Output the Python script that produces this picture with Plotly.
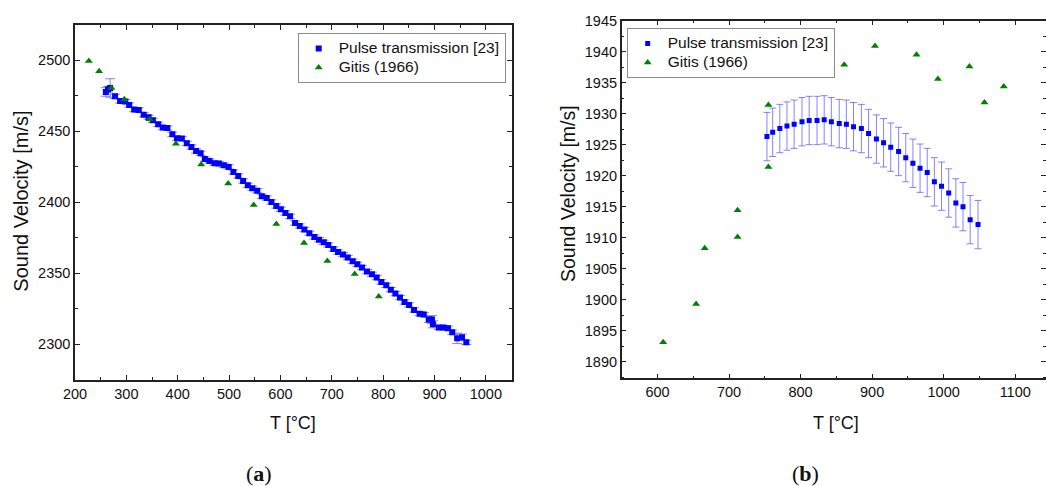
import plotly.graph_objects as go

W, H = 1046, 486

# ---------------- Panel (a) ----------------
a_pulse_T = [260, 264.5, 268.4, 278, 287.8, 298, 305.6, 315.2, 324.2, 333.7, 343.4, 351.6,
             361.9, 370.9, 379.9, 389.6, 398.5, 408.1, 417.7, 426.7, 435.8, 444.6,
             452.9, 461.8, 471.4, 480.2, 489.8, 499.3, 508.4, 517.9, 527.4, 536.5, 545.3,
             554.9, 563.9, 573.4, 582.5, 592, 600.8,
             609.7, 618.8, 628.5, 637.7, 646.6, 656.4, 666.1, 675.2, 684.4, 693.3, 703.1,
             712.2, 721.9, 731.1, 740.8, 749.8, 758.9, 768.6, 778.3, 787.5,
             796.5, 806.1, 815, 823.9, 832.8, 841.7, 850.6, 860.1, 871, 879.2, 888.8,
             895.1, 897, 908.5, 917.4, 926.3, 934.6, 944.1, 953.6, 962]
a_pulse_V = [2477.7, 2479.6, 2480.5, 2474.6, 2471.4, 2470.9, 2468.5, 2465.3, 2465.0, 2461.7,
             2459.9, 2457.7, 2454.9, 2452.6, 2452.3, 2447.9, 2445.1, 2444.9, 2441.5, 2438.9,
             2436.1, 2434.5,
             2430.5, 2429.1, 2427.5, 2427.3, 2426.1, 2424.9, 2421.3, 2418.5, 2415.0, 2412.0,
             2409.9, 2408.2, 2404.2, 2403.0, 2400.2, 2397.4, 2395.1,
             2392.5, 2390.1, 2385.4, 2383.3, 2380.8, 2378.2, 2375.6, 2373.7, 2371.8, 2369.9,
             2367.1, 2365.0, 2363.2, 2361.1, 2358.5, 2356.3, 2354.0, 2351.2, 2349.3, 2347.0,
             2343.9, 2341.5, 2338.5, 2335.7, 2332.9, 2329.8, 2327.7, 2324.2, 2321.6, 2320.9,
             2317.4, 2317.4, 2314.1, 2311.8, 2311.8, 2311.3, 2308.5, 2304.2, 2304.9, 2301.4]
a_pulse_err = [3.0, 2.0, 6.5, 1.5, 1.5, 1.5, 1.5, 1.5, 1.5, 1.5, 1.5, 1.5, 1.5, 1.5, 1.5, 1.5,
               1.5, 1.5, 1.5, 1.5, 1.5, 1.5,
               1.5, 1.5, 1.5, 1.5, 1.5, 1.5, 1.5, 1.5, 1.5, 1.5, 1.5, 1.5, 1.5, 1.5, 1.5,
               1.5, 1.5,
               1.5, 1.5, 1.5, 1.5, 1.5, 1.5, 1.5, 1.5, 1.5, 1.5, 1.5, 1.5, 1.5, 1.5, 1.5,
               1.5, 1.5, 1.5, 1.5, 1.5,
               1.5, 1.5, 1.5, 1.5, 1.5, 1.5, 1.5, 1.5, 1.5, 1.5, 2.0, 2.8, 2.5, 1.5, 1.5,
               1.5, 1.5, 3.7, 2.3, 1.5]
a_gitis_T = [227, 247, 271, 296, 345, 396.5, 445.7, 498.3, 548, 592, 646, 691.4, 744.7, 791.4]
a_gitis_V = [2499.5, 2492.3, 2480.5, 2472.5, 2458.5, 2441.3, 2426.6, 2413.2, 2398.1, 2384.7,
             2371.3, 2358.7, 2349.5, 2333.6]

# ---------------- Panel (b) ----------------
b_pulse_T = [753, 761, 771, 781, 791, 802, 812, 823, 833, 843, 854, 864, 874, 885, 895,
             906, 916, 926, 937, 947, 957, 967, 977, 987, 997, 1007, 1017, 1027, 1037, 1048]
b_pulse_V = [1926.3, 1927.0, 1927.6, 1928.0, 1928.3, 1928.7, 1928.9, 1928.9, 1929.0, 1928.7,
             1928.4, 1928.3, 1927.9, 1927.6, 1926.8, 1925.9, 1925.3, 1924.6, 1923.9, 1922.9,
             1922.0, 1921.2, 1920.5, 1919.0, 1918.3, 1917.2, 1915.6, 1915.0, 1912.9, 1912.1]
b_pulse_err = [3.9, 3.9, 3.9, 3.9, 3.9, 3.9, 3.9, 3.9, 3.9, 3.9, 3.9, 3.9, 3.9, 3.9, 3.9,
               3.9, 3.9, 3.9, 3.9, 3.9, 3.9, 3.9, 3.9, 3.9, 3.9, 3.9, 3.9, 3.9, 3.9, 3.9]
b_gitis_T = [608, 654, 666, 712, 712, 755, 755, 861, 904, 962, 992, 1036, 1057, 1084]
b_gitis_V = [1893.1, 1899.3, 1908.3, 1910.1, 1914.4, 1921.4, 1931.4, 1937.9, 1940.9, 1939.5,
             1935.6, 1937.6, 1931.8, 1934.4]

legend_names = ["Pulse transmission [23]", "Gitis (1966)"]
x_title = "T [°C]"
y_title = "Sound Velocity [m/s]"

FONT = "Liberation Sans, Arial, sans-serif"
BLUE = "#0000ff"
GREEN = "#008000"
ERR = "rgba(80,80,255,0.7)"
AX = "#222222"


def lname(s):
    return '<span style="font-size:15.5px">' + s + '</span>'


fig = go.Figure()

fig.add_trace(go.Scatter(
    x=a_pulse_T, y=a_pulse_V, mode="markers", name=lname(legend_names[0]),
    marker=dict(symbol="square", size=6, color=BLUE),
    error_y=dict(type="data", array=a_pulse_err, visible=True, color=ERR, thickness=1, width=5),
    xaxis="x", yaxis="y", legend="legend"))
fig.add_trace(go.Scatter(
    x=a_gitis_T, y=a_gitis_V, mode="markers", name=lname(legend_names[1]),
    marker=dict(symbol="triangle-up", size=7, color=GREEN),
    xaxis="x", yaxis="y", legend="legend"))

fig.add_trace(go.Scatter(
    x=b_pulse_T, y=b_pulse_V, mode="markers", name=lname(legend_names[0]),
    marker=dict(symbol="square", size=5, color=BLUE),
    error_y=dict(type="data", array=b_pulse_err, visible=True, color=ERR, thickness=1, width=3.5),
    xaxis="x2", yaxis="y2", legend="legend2"))
fig.add_trace(go.Scatter(
    x=b_gitis_T, y=b_gitis_V, mode="markers", name=lname(legend_names[1]),
    marker=dict(symbol="triangle-up", size=7, color=GREEN),
    xaxis="x2", yaxis="y2", legend="legend2"))


def axis(domain, rng, dtick, minor, anchor):
    return dict(
        domain=domain, range=rng, anchor=anchor, dtick=dtick, tick0=0,
        automargin=False,
        showline=True, linecolor=AX, linewidth=1.5, mirror="ticks",
        ticks="inside", ticklen=5, tickwidth=1, tickcolor=AX,
        minor=dict(dtick=minor, ticks="inside", ticklen=3, tickwidth=1, tickcolor=AX),
        showgrid=False, zeroline=False, tickformat="d",
        tickfont=dict(family=FONT, size=14.5, color="#111"),
    )


xa = axis([75 / W, 511.5 / W], [200, 1050], 100, 50, "y")
ya = axis([1 - 379.8 / H, 1 - 24.8 / H], [2275, 2525], 50, 25, "x")
xb = axis([621.7 / W, 1.0], [550, 1143], 100, 50, "y2")
yb = axis([1 - 378.3 / H, 1 - 20.7 / H], [1887.3, 1945], 5, 2.5, "x2")

legend_common = dict(bordercolor="#8c8c8c", borderwidth=1, bgcolor="white",
                     font=dict(family=FONT, size=12, color="#111"),
                     yanchor="top", tracegroupgap=0)


def ann(text, x, y, size, family=FONT, angle=0):
    return dict(text=text, x=x / W, y=1 - y / H, xref="paper", yref="paper",
                xanchor="center", yanchor="middle", showarrow=False, textangle=angle,
                font=dict(family=family, size=size, color="#111"))


fig.update_layout(
    template="none",
    width=W, height=H,
    margin=dict(l=0, r=0, t=0, b=0, pad=0, autoexpand=False),
    paper_bgcolor="white", plot_bgcolor="white",
    xaxis=xa, yaxis=ya, xaxis2=xb, yaxis2=yb,
    legend=dict(x=505.7 / W, xanchor="right", y=1 - 33 / H, **legend_common),
    legend2=dict(x=626.7 / W, xanchor="left", y=1 - 28 / H, **legend_common),
    annotations=[
        ann(x_title, 293, 423, 18),
        ann(x_title, 836, 423, 18),
        ann(y_title, 20.7, 201, 20, angle=-90),
        ann(y_title, 568, 194, 19.5, angle=-90),
        ann("(<b>a</b>)", 259, 473, 22, family="Liberation Serif, serif"),
        ann("(<b>b</b>)", 805, 473, 22, family="Liberation Serif, serif"),
    ],
)

fig.write_html(
    "out.html",
    config={"displayModeBar": False},
    post_script="document.body.style.margin='0px';document.body.style.overflow='hidden';",
)
